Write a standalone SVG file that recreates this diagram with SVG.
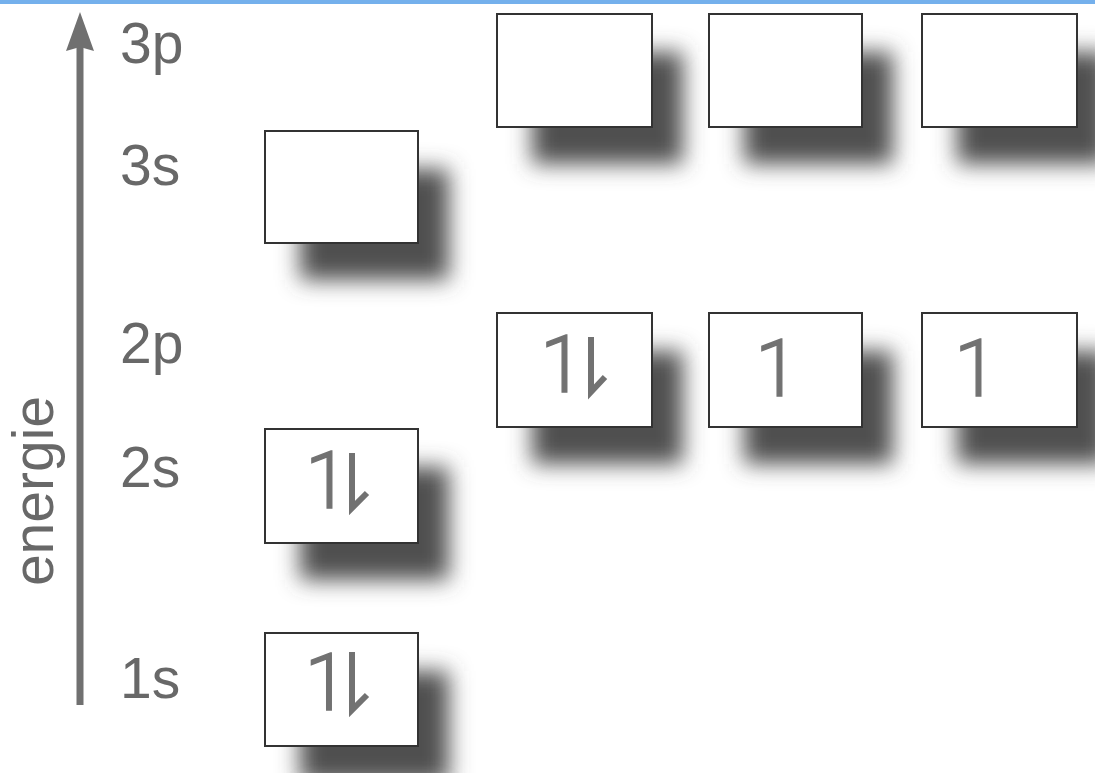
<svg xmlns="http://www.w3.org/2000/svg" width="1095" height="773" viewBox="0 0 1095 773">
  <style>
    .lbl { font-family: "Liberation Sans", Arial, sans-serif; font-size: 57px; fill: #686868; }
    .spin { font-family: Roboto, "Open Sans", sans-serif; font-size: 79px; font-weight: 300; fill: #727272; stroke: #727272; stroke-width: 1.4; }
    .box { fill: #ffffff; stroke: #333333; stroke-width: 2; }
    .shadow { fill: #505050; filter: url(#blur); }
    .down { fill: none; stroke: #727272; stroke-width: 6; stroke-linejoin: miter; }
  </style>
  <defs>
    <filter id="blur" x="-50%" y="-50%" width="200%" height="200%">
      <feGaussianBlur stdDeviation="11"/>
    </filter>
  </defs>
  <rect x="0" y="0" width="1095" height="773" fill="#ffffff"/>
  <rect x="0" y="0" width="1095" height="4" fill="#74b0ec"/>

  <g id="shadows">
    <rect class="shadow" x="532" y="52" width="151" height="112"/>
    <rect class="shadow" x="744" y="52" width="149" height="112"/>
    <rect class="shadow" x="957" y="52" width="151" height="112"/>
    <rect class="shadow" x="300" y="169" width="149" height="111"/>
    <rect class="shadow" x="532" y="351" width="151" height="113"/>
    <rect class="shadow" x="744" y="351" width="149" height="113"/>
    <rect class="shadow" x="957" y="351" width="151" height="113"/>
    <rect class="shadow" x="300" y="467" width="149" height="113"/>
    <rect class="shadow" x="300" y="671" width="149" height="112"/>
  </g>

  <g id="connectors">
    <g id="axis">
      <rect x="76.5" y="45" width="7" height="660" fill="#707070"/>
      <polygon points="80,12 94,51 80,47 66,51" fill="#707070"/>
      <text class="lbl" font-size="58" transform="translate(53,491) rotate(-90)" text-anchor="middle" x="0" y="0">energie</text>
    </g>
  </g>

  <g id="label-3p"><text class="lbl" x="120" y="63">3p</text></g>
  <g id="label-3s"><text class="lbl" x="120" y="185">3s</text></g>
  <g id="label-2p"><text class="lbl" x="120" y="363">2p</text></g>
  <g id="label-2s"><text class="lbl" x="120" y="487">2s</text></g>
  <g id="label-1s"><text class="lbl" x="120" y="698">1s</text></g>

  <g id="orb-3p-1"><rect class="box" x="497" y="14" width="155" height="113"/></g>
  <g id="orb-3p-2"><rect class="box" x="709" y="14" width="153" height="113"/></g>
  <g id="orb-3p-3"><rect class="box" x="922" y="14" width="155" height="113"/></g>

  <g id="orb-3s"><rect class="box" x="265" y="131" width="153" height="112"/></g>

  <g id="orb-2p-1">
    <rect class="box" x="497" y="313" width="155" height="114"/>
    <text class="spin" x="540" y="392">1</text>
    <path class="down" d="M591,337 L591,392 L605,377"/>
  </g>
  <g id="orb-2p-2">
    <rect class="box" x="709" y="313" width="153" height="114"/>
    <text class="spin" x="755" y="396">1</text>
  </g>
  <g id="orb-2p-3">
    <rect class="box" x="922" y="313" width="155" height="114"/>
    <text class="spin" x="954" y="396">1</text>
  </g>

  <g id="orb-2s">
    <rect class="box" x="265" y="429" width="153" height="114"/>
    <text class="spin" x="305" y="508">1</text>
    <path class="down" d="M352,453 L352,508 L367,493"/>
  </g>

  <g id="orb-1s">
    <rect class="box" x="265" y="633" width="153" height="113"/>
    <text class="spin" x="304.5" y="710">1</text>
    <path class="down" d="M352,652 L352,710 L367,695"/>
  </g>
</svg>
